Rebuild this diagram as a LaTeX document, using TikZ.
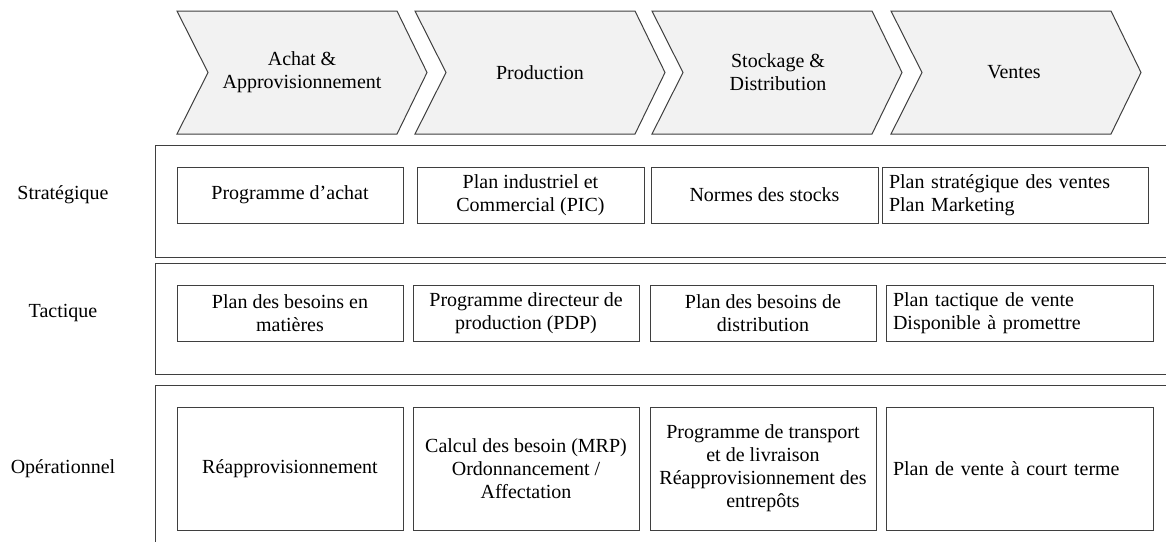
\documentclass[tikz,border=0pt]{standalone}
\usepackage{fontspec}
\setmainfont{Liberation Serif}
\definecolor{linec}{HTML}{3F3F3F}
\definecolor{chevfill}{HTML}{F2F2F2}
\begin{document}
\begin{tikzpicture}[x=1pt,y=-1pt,line width=1pt,
  every node/.style={font=\fontsize{20}{23}\selectfont, text=black},
  chev/.style={draw=linec, fill=chevfill, line join=miter},
  chevtext/.style={align=center},
  panel/.style={draw=linec},
  rowlabel/.style={},
  box/.style={draw=linec, inner xsep=7pt, inner ysep=2pt, align=center},
  boxl/.style={box, align=left}]
\useasboundingbox (0,0) rectangle (1166,542);

% chevrons
\draw[chev] (177,11) -- (397,11) -- (427,72.5) -- (397,134) -- (177,134) -- (208,72.5) -- cycle;
\draw[chev] (415,11) -- (635,11) -- (665,72.5) -- (635,134) -- (415,134) -- (446,72.5) -- cycle;
\draw[chev] (652,11) -- (872,11) -- (902,72.5) -- (872,134) -- (652,134) -- (683,72.5) -- cycle;
\draw[chev] (891,11) -- (1111,11) -- (1141,72.5) -- (1111,134) -- (891,134) -- (922,72.5) -- cycle;
\node[chevtext] (c1) at (302,72.5) {Achat \&\\Approvisionnement};
\node[chevtext] (c2) at (540,72.5) {Production};
\node[chevtext] (c3) at (778,72.5) {Stockage \&\\Distribution};
\node[chevtext] (c4) at (1014,72.5) {Ventes};

% panels
\draw[panel] (1166,145) -- (155,145) -- (155,257) -- (1166,257);
\draw[panel] (1166,263) -- (155,263) -- (155,374) -- (1166,374);
\draw[panel] (1166,385) -- (155,385) -- (155,542);

% row labels
\node[rowlabel] (lS) at (63,195) {Stratégique};
\node[rowlabel] (lT) at (63,313) {Tactique};
\node[rowlabel] (lO) at (63,468.5) {Opérationnel};

% strategic
\node[box, minimum width=226pt, minimum height=56pt] (s1) at (290,195) {Programme d’achat};
\node[box, minimum width=227pt, minimum height=56pt] (s2) at (530.5,195) {Plan industriel et\\Commercial (PIC)};
\node[box, minimum width=227pt, minimum height=56pt] (s3) at (764.5,195) {Normes des stocks};
\node[boxl, text width=252pt, minimum height=56pt] (s4) at (1015,195) {Plan stratégique des ventes\\Plan Marketing};

% tactical
\node[box, minimum width=226pt, minimum height=56pt] (t1) at (290,313) {Plan des besoins en\\matières};
\node[box, minimum width=226pt, minimum height=56pt] (t2) at (526,313) {Programme directeur de\\production (PDP)};
\node[box, minimum width=226pt, minimum height=56pt] (t3) at (763,313) {Plan des besoins de\\distribution};
\node[boxl, text width=253pt, minimum height=56pt] (t4) at (1019.5,313) {Plan tactique de vente\\Disponible à promettre};

% operational
\node[box, minimum width=226pt, minimum height=123pt] (o1) at (290,468.5) {Réapprovisionnement};
\node[box, minimum width=226pt, minimum height=123pt] (o2) at (526,468.5) {Calcul des besoin (MRP)\\Ordonnancement /\\Affectation};
\node[box, minimum width=226pt, minimum height=123pt] (o3) at (763,468.5) {Programme de transport\\et de livraison\\Réapprovisionnement des\\entrepôts};
\node[boxl, text width=253pt, minimum height=123pt] (o4) at (1019.5,468.5) {Plan de vente à court terme};
\end{tikzpicture}
\end{document}
